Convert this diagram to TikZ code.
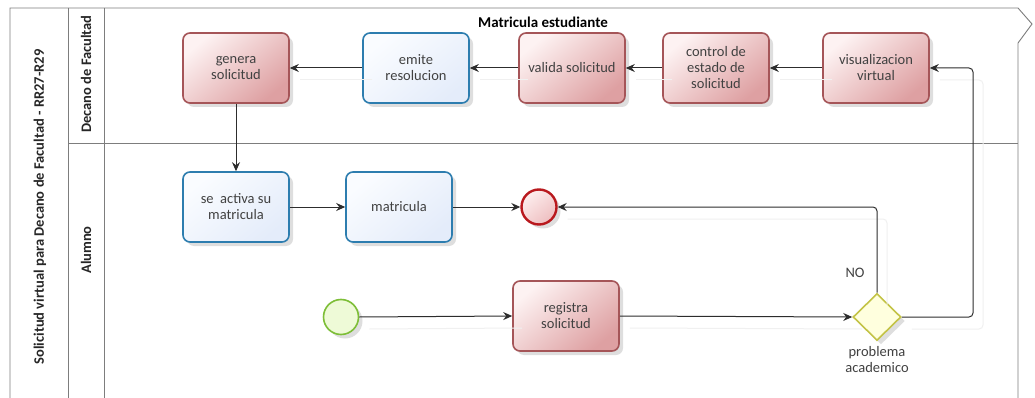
\documentclass[tikz,border=0pt]{standalone}
\usepackage{fontspec}
\setmainfont{Carlito}
\usetikzlibrary{arrows.meta,shapes.geometric,shadows}

\definecolor{lanegray}{RGB}{125,125,125}
\definecolor{flowgray}{RGB}{45,45,45}
\definecolor{txtgray}{RGB}{65,65,65}
\definecolor{redline}{RGB}{165,85,88}
\definecolor{redlight}{RGB}{253,242,242}
\definecolor{reddark}{RGB}{222,160,162}
\definecolor{blueline}{RGB}{45,125,175}
\definecolor{bluelight}{RGB}{250,252,255}
\definecolor{bluedark}{RGB}{228,236,250}
\definecolor{endline}{RGB}{185,25,30}
\definecolor{endlight}{RGB}{253,238,238}
\definecolor{enddark}{RGB}{238,190,192}
\definecolor{startline}{RGB}{125,190,55}
\definecolor{startfill}{RGB}{238,250,215}
\definecolor{gwline}{RGB}{195,195,70}
\definecolor{gwfill}{RGB}{255,255,222}

\tikzset{
  lane/.style={draw=lanegray, line width=0.9pt},
  softshadow/.style={drop shadow={shadow xshift=4pt, shadow yshift=-4pt, opacity=0.13, fill=black}},
  taskbase/.style={rectangle, rounded corners=7pt, line width=1.6pt,
    minimum width=106pt, minimum height=70pt, inner sep=2pt, align=center,
    text=txtgray, font=\fontsize{14.5}{16}\selectfont, softshadow},
  redtask/.style={taskbase, draw=redline, top color=redlight, bottom color=reddark, shading angle=40},
  bluetask/.style={taskbase, draw=blueline, top color=bluelight, bottom color=bluedark, shading angle=40},
  endevent/.style={circle, minimum size=35pt, inner sep=0pt, line width=2.4pt, draw=endline,
    top color=endlight, bottom color=enddark, shading angle=40, softshadow},
  startevent/.style={circle, minimum size=35pt, inner sep=0pt, line width=1.6pt, draw=startline,
    fill=startfill, softshadow},
  gateway/.style={diamond, minimum width=48pt, minimum height=47pt, inner sep=0pt,
    line width=1.6pt, draw=gwline, fill=gwfill, softshadow},
  flow/.style={draw=flowgray, line width=1pt, rounded corners=4pt,
    -{Stealth[length=9pt, width=8pt, inset=3pt]}},
  flowshade/.style={draw=black!6, line width=1pt, rounded corners=4pt,
    transform canvas={shift={(10,12)}}},
  lanetitle/.style={font=\bfseries\fontsize{14.5}{16}\selectfont, text=black!85, rotate=90},
  plain/.style={text=txtgray, font=\fontsize{14.5}{16}\selectfont},
}

\begin{document}
\begin{tikzpicture}[x=1pt, y=-1pt]
\useasboundingbox (0,0) rectangle (1035,398);
\fill[white] (0,0) rectangle (1035,398);

% pool and lanes
\draw[lane] (10,398) -- (10,8) -- (1018,8) -- (1032,24) -- (1018,43) -- (1018,398);
\draw[lane] (68,8) -- (68,398);
\draw[lane] (104,8) -- (104,398);
\draw[lane] (68,143) -- (1018,143);

\node[lanetitle] (pooltitle) at (40,207) {Solicitud virtual para Decano de Facultad - RR27-R29};
\node[lanetitle] (lanedecano) at (86,74) {Decano de Facultad};
\node[lanetitle] (lanealumno) at (86,250) {Alumno};
\node[font=\bfseries\fontsize{15}{17}\selectfont] (title) at (543,22) {Matricula estudiante};

% tasks of the dean
\node[redtask]  (genera)  at (236,68) {genera\\solicitud};
\node[bluetask] (emite)   at (416,68) {emite\\resolucion};
\node[redtask]  (valida)  at (572,68) {valida solicitud};
\node[redtask]  (control) at (716,68) {control de\\estado de\\solicitud};
\node[redtask]  (visual)  at (876,68) {visualizacion\\virtual};

% tasks of the student
\node[bluetask] (activa)    at (236,207) {se\ \ activa su\\matricula};
\node[bluetask] (matricula) at (399,207) {matricula};
\node[endevent] (fin)       at (539,207) {};
\node[startevent] (inicio)  at (341,317) {};
\node[redtask]  (registra)  at (566,316) {registra\\solicitud};
\node[gateway]  (gw)        at (877,317) {};
\node[plain, align=center, anchor=north] (gwlabel) at (877,343) {problema\\academico};
\node[plain] (nolabel) at (855,273) {NO};

\coordinate (loopx) at (973,68);

% faint shadows of the sequence flows
\begin{scope}
\draw[flowshade] (visual.west) -- (control.east);
\draw[flowshade] (control.west) -- (valida.east);
\draw[flowshade] (valida.west) -- (emite.east);
\draw[flowshade] (emite.west) -- (genera.east);
\draw[flowshade] (gw.north) |- (fin.east);
\draw[flowshade] (gw.east) -| (loopx) -- (visual.east);
\draw[flowshade] (inicio.east) -- (registra.west);
\draw[flowshade] (registra.east) -- (gw.west);
\end{scope}

% sequence flows
\draw[flow] (visual.west) -- (control.east);
\draw[flow] (control.west) -- (valida.east);
\draw[flow] (valida.west) -- (emite.east);
\draw[flow] (emite.west) -- (genera.east);
\draw[flow] (genera.south) -- (activa.north);
\draw[flow] (activa.east) -- (matricula.west);
\draw[flow] (matricula.east) -- (fin.west);
\draw[flow] (inicio.east) -- (registra.west);
\draw[flow] (registra.east) -- (gw.west);
\draw[flow] (gw.north) |- (fin.east);
\draw[flow] (gw.east) -| (loopx) -- (visual.east);
\end{tikzpicture}
\end{document}
